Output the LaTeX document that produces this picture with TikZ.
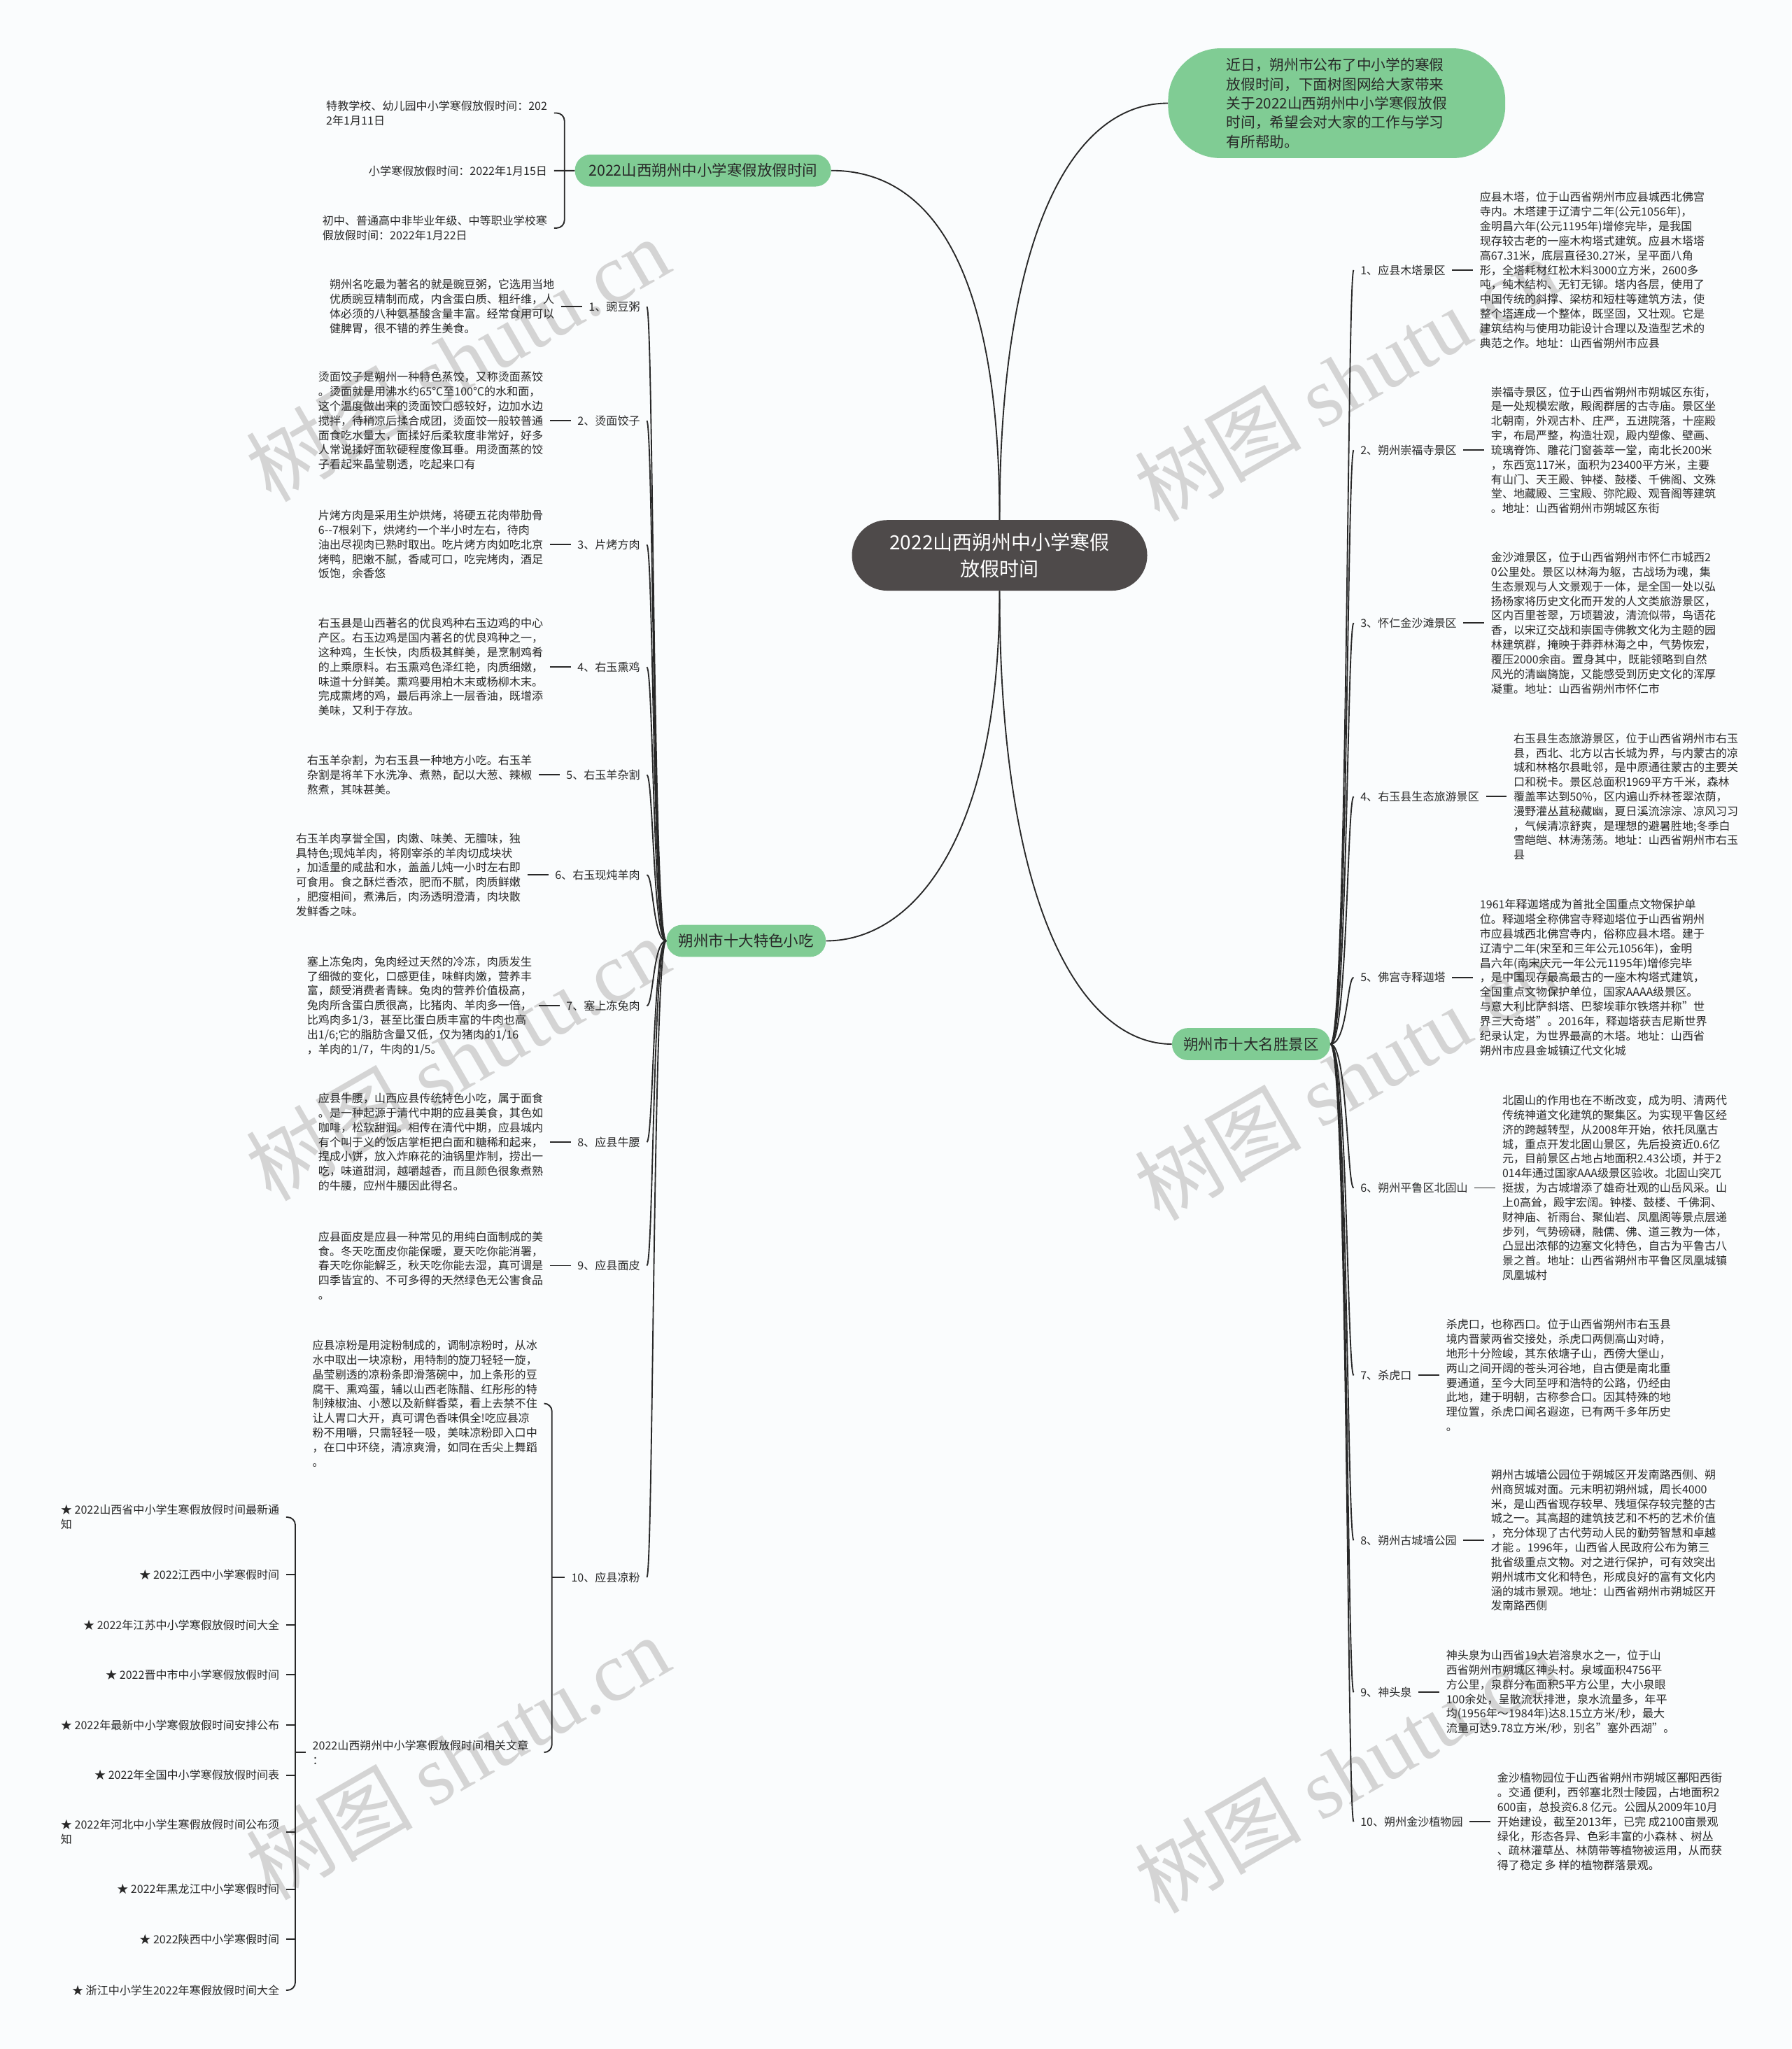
\documentclass[tikz,border=0pt]{standalone}
\usepackage{fontspec}
\setmainfont{Noto Sans CJK SC}
\newfontfamily\markfont{Liberation Serif}
\usetikzlibrary{positioning}

\definecolor{leafgreen}{RGB}{128,204,148}
\definecolor{rootgray}{RGB}{78,74,74}
\definecolor{paper}{RGB}{250,252,253}
\definecolor{ink}{RGB}{40,40,40}

\begin{document}
\begin{tikzpicture}[x = 1pt, y = -1pt,
	rootnode/.style = {fill = rootgray, text = white, rounded corners = 27pt, minimum width = 226pt, minimum height = 54pt, inner sep = 0pt, align = center, font = \fontsize{15}{20}\selectfont},
	intronode/.style = {fill = leafgreen, text = ink, rounded corners = 40pt, minimum width = 258pt, minimum height = 84pt, inner sep = 0pt, align = left, font = \fontsize{11.1}{14.7}\selectfont},
	branchnode/.style = {fill = leafgreen, text = ink, rounded corners = 12pt, minimum height = 24.5pt, inner sep = 0pt, font = \fontsize{11.5}{14}\selectfont},
	labelnode/.style = {text = ink, inner xsep = 5pt, inner ysep = 2pt, font = \fontsize{8.6}{11.15}\selectfont},
	textnode/.style = {labelnode, align = left},
	wire/.style = {draw = ink, line width = 1pt},
	wmark/.style = {text = black!17, rotate = 30, font = \fontsize{64}{64}\selectfont}
]

	% Canvas
	
	\useasboundingbox (0, 0) rectangle (1371, 1568);
	\fill [paper] (0, 0) rectangle (1371, 1568);
	
	% Watermarks
	
	\foreach \n/\x/\y in {1/350/275, 2/1030/290, 3/350/810, 4/1030/825, 5/350/1345, 6/1030/1355}
		\node [wmark] (mark\n) at (\x, \y) {树图 {\markfont shutu.cn}};
	
	% Root and first level
	
	\node [rootnode] (root) at (765, 425) {2022山西朔州中小学寒假\\放假时间};
	\node [intronode] (intro) at (1023, 79) {近日，朔州市公布了中小学的寒假\\放假时间，下面树图网给大家带来\\关于2022山西朔州中小学寒假放假\\时间，希望会对大家的工作与学习\\有所帮助。};
	\node [branchnode, minimum width = 196pt] (holiday) at (538, 130.5) {2022山西朔州中小学寒假放假时间};
	\node [branchnode, minimum width = 122pt] (snacks) at (571, 720) {朔州市十大特色小吃};
	\node [branchnode, minimum width = 121pt] (sights) at (957.5, 799) {朔州市十大名胜景区};
	
	\draw [wire] (root.north) .. controls (765, 220) and (720, 130.5) .. (holiday.east);
	\draw [wire] (root.north) .. controls (765, 180) and (820, 79) .. (intro.west);
	\draw [wire] (root.south) .. controls (765, 640) and (700, 720) .. (snacks.east);
	\draw [wire] (root.south) .. controls (765, 700) and (830, 799) .. (sights.west);
	
	% Holiday dates
	
	\node [textnode, anchor = east] (day1) at (424, 86.5) {特教学校、幼儿园中小学寒假放假时间：202\\2年1月11日};
	\node [labelnode, anchor = east] (day2) at (424, 130.7) {小学寒假放假时间：2022年1月15日};
	\node [textnode, anchor = east] (day3) at (424, 174.5) {初中、普通高中非毕业年级、中等职业学校寒\\假放假时间：2022年1月22日};
	
	\draw [wire, rounded corners = 6pt] (day1.east) -- ++(8, 0) |- (day3.east);
	\draw [wire] (day2) -- (holiday);
	
	% Snacks
	
	\foreach \n/\y/\t in {1/234.7/豌豆粥, 2/322/烫面饺子, 3/416.8/片烤方肉, 4/510.5/右玉熏鸡, 5/593/右玉羊杂割, 6/669.5/右玉现炖羊肉, 7/769.7/塞上冻兔肉, 8/874/应县牛腰, 9/968.5/应县面皮, 10/1207/应县凉粉}
	{
		\node [labelnode, anchor = east] (food\n) at (495, \y) {\n、\t};
		\draw [wire] (snacks.west) .. controls +(-10, 0) and +(5, 0) .. (food\n.east);
	}
	
	\node [textnode, left = 16pt of food1] (food1t) {朔州名吃最为著名的就是豌豆粥，它选用当地\\优质豌豆精制而成，内含蛋白质、粗纤维，人\\体必须的八种氨基酸含量丰富。经常食用可以\\健脾胃，很不错的养生美食。};
	\node [textnode, left = 16pt of food2] (food2t) {烫面饺子是朔州一种特色蒸饺，又称烫面蒸饺\\。烫面就是用沸水约65℃至100℃的水和面，\\这个温度做出来的烫面饺口感较好，边加水边\\搅拌，待稍凉后揉合成团，烫面饺一般较普通\\面食吃水量大，面揉好后柔软度非常好，好多\\人常说揉好面软硬程度像耳垂。用烫面蒸的饺\\子看起来晶莹剔透，吃起来口有};
	\node [textnode, left = 16pt of food3] (food3t) {片烤方肉是采用生炉烘烤，将硬五花肉带肋骨\\6-{}-7根剁下，烘烤约一个半小时左右，待肉\\油出尽视肉已熟时取出。吃片烤方肉如吃北京\\烤鸭，肥嫩不腻，香咸可口，吃完烤肉，酒足\\饭饱，余香悠};
	\node [textnode, left = 16pt of food4] (food4t) {右玉县是山西著名的优良鸡种右玉边鸡的中心\\产区。右玉边鸡是国内著名的优良鸡种之一，\\这种鸡，生长快，肉质极其鲜美，是烹制鸡肴\\的上乘原料。右玉熏鸡色泽红艳，肉质细嫩，\\味道十分鲜美。熏鸡要用柏木末或杨柳木末。\\完成熏烤的鸡，最后再涂上一层香油，既增添\\美味，又利于存放。};
	\node [textnode, left = 16pt of food5] (food5t) {右玉羊杂割，为右玉县一种地方小吃。右玉羊\\杂割是将羊下水洗净、煮熟，配以大葱、辣椒\\熬煮，其味甚美。};
	\node [textnode, left = 16pt of food6] (food6t) {右玉羊肉享誉全国，肉嫩、味美、无膻味，独\\具特色;现炖羊肉，将刚宰杀的羊肉切成块状\\，加适量的咸盐和水，盖盖儿炖一小时左右即\\可食用。食之酥烂香浓，肥而不腻，肉质鲜嫩\\，肥瘦相间，煮沸后，肉汤透明澄清，肉块散\\发鲜香之味。};
	\node [textnode, left = 16pt of food7] (food7t) {塞上冻兔肉，兔肉经过天然的冷冻，肉质发生\\了细微的变化，口感更佳，味鲜肉嫩，营养丰\\富，颇受消费者青睐。兔肉的营养价值极高，\\兔肉所含蛋白质很高，比猪肉、羊肉多一倍，\\比鸡肉多1/3，甚至比蛋白质丰富的牛肉也高\\出1/6;它的脂肪含量又低，仅为猪肉的1/16\\，羊肉的1/7，牛肉的1/5。};
	\node [textnode, left = 16pt of food8] (food8t) {应县牛腰，山西应县传统特色小吃，属于面食\\。是一种起源于清代中期的应县美食，其色如\\咖啡，松软甜润。相传在清代中期，应县城内\\有个叫于义的饭店掌柜把白面和糖稀和起来，\\捏成小饼，放入炸麻花的油锅里炸制，捞出一\\吃，味道甜润，越嚼越香，而且颜色很象煮熟\\的牛腰，应州牛腰因此得名。};
	\node [textnode, left = 16pt of food9] (food9t) {应县面皮是应县一种常见的用纯白面制成的美\\食。冬天吃面皮你能保暖，夏天吃你能消署，\\春天吃你能解乏，秋天吃你能去湿，真可谓是\\四季皆宜的、不可多得的天然绿色无公害食品\\。};
	
	\foreach \n in {1, 2, ..., 9}
		\draw [wire] (food\n t) -- (food\n);
	
	% Snack 10 and related articles
	
	\node [textnode, anchor = west] (food10t) at (234, 1074) {应县凉粉是用淀粉制成的，调制凉粉时，从冰\\水中取出一块凉粉，用特制的旋刀轻轻一旋，\\晶莹剔透的凉粉条即滑落碗中，加上条形的豆\\腐干、熏鸡蛋，辅以山西老陈醋、红彤彤的特\\制辣椒油、小葱以及新鲜香菜，看上去禁不住\\让人胃口大开，真可谓色香味俱全!吃应县凉\\粉不用嚼，只需轻轻一吸，美味凉粉即入口中\\，在口中环绕，清凉爽滑，如同在舌尖上舞蹈\\。};
	\node [textnode, anchor = west] (links) at (234, 1341) {2022山西朔州中小学寒假放假时间相关文章\\：};
	\coordinate (foodbar) at ([xshift = 6pt] food10t.east);
	
	\draw [wire, rounded corners = 6pt] (food10t.east) -- (foodbar) |- (food10t.east |- links.east);
	\draw [wire] (food10.west) -- (food10.west -| foodbar);
	
	\foreach \n/\y/\t in {1/1161/{★ 2022山西省中小学生寒假放假时间最新通\\知}, 2/1205/{★ 2022江西中小学寒假时间}, 3/1243.5/{★ 2022年江苏中小学寒假放假时间大全}, 4/1281.6/{★ 2022晋中市中小学寒假放假时间}, 5/1320/{★ 2022年最新中小学寒假放假时间安排公布}, 6/1358.5/{★ 2022年全国中小学寒假放假时间表}, 7/1402/{★ 2022年河北中小学生寒假放假时间公布须\\知}, 8/1445.7/{★ 2022年黑龙江中小学寒假时间}, 9/1484/{★ 2022陕西中小学寒假时间}, 10/1523/{★ 浙江中小学生2022年寒假放假时间大全}}
		\node [textnode, anchor = east] (link\n) at (219, \y) {\t};
	
	\coordinate (linkbar) at (226, 1341);
	\draw [wire, rounded corners = 6pt] (link1.east) -- (link1.east -| linkbar) |- (link10.east);
	\foreach \n in {2, 3, ..., 9}
		\draw [wire] (link\n.east) -- (link\n.east -| linkbar);
	\draw [wire] (links.west) -- (links.west -| linkbar);
	
	% Sights
	
	\foreach \n/\y/\t in {1/206.7/应县木塔景区, 2/344.5/朔州崇福寺景区, 3/476.7/怀仁金沙滩景区, 4/609.6/右玉县生态旅游景区, 5/748/佛宫寺释迦塔, 6/909/朔州平鲁区北固山, 7/1052.5/杀虎口, 8/1178.7/朔州古城墙公园, 9/1295/神头泉, 10/1394/朔州金沙植物园}
	{
		\node [labelnode, anchor = west] (sight\n) at (1036, \y) {\n、\t};
		\draw [wire] (sights.east) .. controls +(13, 0) and +(-5, 0) .. (sight\n.west);
	}
	
	\node [textnode, right = 16pt of sight1] (sight1t) {应县木塔，位于山西省朔州市应县城西北佛宫\\寺内。木塔建于辽清宁二年(公元1056年)，\\金明昌六年(公元1195年)增修完毕，是我国\\现存较古老的一座木构塔式建筑。应县木塔塔\\高67.31米，底层直径30.27米，呈平面八角\\形，全塔耗材红松木料3000立方米，2600多\\吨，纯木结构、无钉无铆。塔内各层，使用了\\中国传统的斜撑、梁枋和短柱等建筑方法，使\\整个塔连成一个整体，既坚固，又壮观。它是\\建筑结构与使用功能设计合理以及造型艺术的\\典范之作。地址：山西省朔州市应县};
	\node [textnode, right = 16pt of sight2] (sight2t) {崇福寺景区，位于山西省朔州市朔城区东街，\\是一处规模宏敞，殿阁群居的古寺庙。景区坐\\北朝南，外观古朴、庄严，五进院落，十座殿\\宇，布局严整，构造壮观，殿内塑像、壁画、\\琉璃脊饰、雕花门窗荟萃一堂，南北长200米\\，东西宽117米，面积为23400平方米，主要\\有山门、天王殿、钟楼、鼓楼、千佛阁、文殊\\堂、地藏殿、三宝殿、弥陀殿、观音阁等建筑\\。地址：山西省朔州市朔城区东街};
	\node [textnode, right = 16pt of sight3] (sight3t) {金沙滩景区，位于山西省朔州市怀仁市城西2\\0公里处。景区以林海为躯，古战场为魂，集\\生态景观与人文景观于一体，是全国一处以弘\\扬杨家将历史文化而开发的人文类旅游景区，\\区内百里苍翠，万顷碧波，清流似带，鸟语花\\香，以宋辽交战和崇国寺佛教文化为主题的园\\林建筑群，掩映于莽莽林海之中，气势恢宏，\\覆压2000余亩。置身其中，既能领略到自然\\风光的清幽旖旎，又能感受到历史文化的浑厚\\凝重。地址：山西省朔州市怀仁市};
	\node [textnode, right = 16pt of sight4] (sight4t) {右玉县生态旅游景区，位于山西省朔州市右玉\\县，西北、北方以古长城为界，与内蒙古的凉\\城和林格尔县毗邻，是中原通往蒙古的主要关\\口和税卡。景区总面积1969平方千米，森林\\覆盖率达到50\%，区内遍山乔林苍翠浓荫，\\漫野灌丛苴秘藏幽，夏日溪流淙淙、凉风习习\\，气候清凉舒爽，是理想的避暑胜地;冬季白\\雪皑皑、林涛荡荡。地址：山西省朔州市右玉\\县};
	\node [textnode, right = 16pt of sight5] (sight5t) {1961年释迦塔成为首批全国重点文物保护单\\位。释迦塔全称佛宫寺释迦塔位于山西省朔州\\市应县城西北佛宫寺内，俗称应县木塔。建于\\辽清宁二年(宋至和三年公元1056年)，金明\\昌六年(南宋庆元一年公元1195年)增修完毕\\，是中国现存最高最古的一座木构塔式建筑，\\全国重点文物保护单位，国家AAAA级景区。\\与意大利比萨斜塔、巴黎埃菲尔铁塔并称"世\\界三大奇塔"。2016年，释迦塔获吉尼斯世界\\纪录认定，为世界最高的木塔。地址：山西省\\朔州市应县金城镇辽代文化城};
	\node [textnode, right = 16pt of sight6] (sight6t) {北固山的作用也在不断改变，成为明、清两代\\传统神道文化建筑的聚集区。为实现平鲁区经\\济的跨越转型，从2008年开始，依托凤凰古\\城，重点开发北固山景区，先后投资近0.6亿\\元，目前景区占地占地面积2.43公顷，并于2\\014年通过国家AAA级景区验收。北固山突兀\\挺拔，为古城增添了雄奇壮观的山岳风采。山\\上0高耸，殿宇宏阔。钟楼、鼓楼、千佛洞、\\财神庙、祈雨台、聚仙岩、凤凰阁等景点层递\\步列，气势磅礴，融儒、佛、道三教为一体，\\凸显出浓郁的边塞文化特色，自古为平鲁古八\\景之首。地址：山西省朔州市平鲁区凤凰城镇\\凤凰城村};
	\node [textnode, right = 16pt of sight7] (sight7t) {杀虎口，也称西口。位于山西省朔州市右玉县\\境内晋蒙两省交接处，杀虎口两侧高山对峙，\\地形十分险峻，其东依塘子山，西傍大堡山，\\两山之间开阔的苍头河谷地，自古便是南北重\\要通道，至今大同至呼和浩特的公路，仍经由\\此地，建于明朝，古称参合口。因其特殊的地\\理位置，杀虎口闻名遐迩，已有两千多年历史\\。};
	\node [textnode, right = 16pt of sight8] (sight8t) {朔州古城墙公园位于朔城区开发南路西侧、朔\\州商贸城对面。元末明初朔州城，周长4000\\米，是山西省现存较早、残垣保存较完整的古\\城之一。其高超的建筑技艺和不朽的艺术价值\\，充分体现了古代劳动人民的勤劳智慧和卓越\\才能 。1996年，山西省人民政府公布为第三\\批省级重点文物。对之进行保护，可有效突出\\朔州城市文化和特色，形成良好的富有文化内\\涵的城市景观。地址：山西省朔州市朔城区开\\发南路西侧};
	\node [textnode, right = 16pt of sight9] (sight9t) {神头泉为山西省19大岩溶泉水之一，位于山\\西省朔州市朔城区神头村。泉域面积4756平\\方公里，泉群分布面积5平方公里，大小泉眼\\100余处，呈散流状排泄，泉水流量多，年平\\均(1956年～1984年)达8.15立方米/秒，最大\\流量可达9.78立方米/秒，别名"塞外西湖"。};
	\node [textnode, right = 16pt of sight10] (sight10t) {金沙植物园位于山西省朔州市朔城区鄯阳西街\\。交通 便利，西邻塞北烈士陵园，占地面积2\\600亩，总投资6.8 亿元。公园从2009年10月\\开始建设，截至2013年，已完 成2100亩景观\\绿化，形态各异、色彩丰富的小森林 、树丛\\、疏林灌草丛、林荫带等植物被运用，从而获\\得了稳定 多 样的植物群落景观。};
	
	\foreach \n in {1, 2, ..., 10}
		\draw [wire] (sight\n) -- (sight\n t);

\end{tikzpicture}
\end{document}
